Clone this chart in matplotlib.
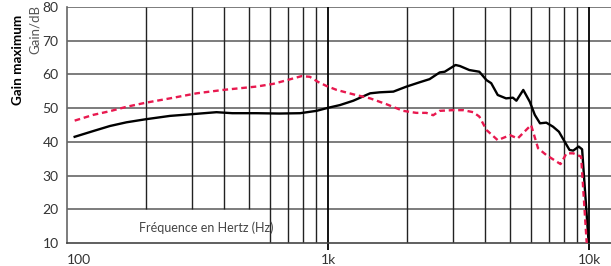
import matplotlib.pyplot as plt
import numpy as np

# values
black_f = [107, 126, 146, 169, 200, 248, 300, 374, 430, 532, 650, 782, 904, 1000,
           1110, 1250, 1450, 1580, 1780, 2000, 2250, 2450, 2680, 2800, 3080, 3200,
           3480, 3800, 4050, 4220, 4470, 4810, 5110, 5270, 5600, 5930, 6200, 6490,
           6860, 7280, 7670, 7870, 8420, 8700, 9130, 9410, 9970]
black_db = [41.5, 43.2, 44.7, 45.8, 46.7, 47.7, 48.2, 48.8, 48.5, 48.5, 48.4, 48.5,
            49.2, 50.1, 50.9, 52.2, 54.4, 54.7, 54.9, 56.4, 57.7, 58.6, 60.6, 60.8,
            62.8, 62.5, 61.3, 60.8, 58.3, 57.4, 53.9, 52.9, 53.1, 52.2, 55.4, 51.9,
            48.0, 45.5, 45.7, 44.5, 43.0, 41.5, 37.6, 37.4, 38.6, 37.8, 10]

pink_f = [107, 126, 146, 169, 200, 248, 314, 396, 532, 617, 696, 792, 852, 915, 985,
          1080, 1250, 1450, 1670, 1940, 2180, 2380, 2530, 2680, 3000, 3300, 3600,
          3800, 4050, 4470, 4980, 5330, 6000, 6380, 6860, 7780, 8200, 8700, 9330, 9800]
pink_db = [46.3, 48.0, 49.1, 50.4, 51.6, 52.9, 54.4, 55.4, 56.4, 57.2, 58.3, 59.5,
           59.3, 57.8, 56.6, 55.4, 54.1, 52.9, 51.2, 49.2, 48.6, 48.6, 47.9, 49.2,
           49.4, 49.4, 48.8, 47.5, 43.5, 40.5, 42.0, 41.0, 45.0, 38.1, 36.1, 33.4,
           36.6, 36.6, 35.6, 10]

y_ticks = [10, 20, 30, 40, 50, 60, 70, 80]
x_ticks = [100, 1000, 10000]
x_labels = ['100', '1k', '10k']

plt.rcParams['font.family'] = ['Lato', 'DejaVu Sans']

fig = plt.figure(figsize=(6.11, 2.66), dpi=100)
ax = fig.add_axes([67 / 611, 23 / 266, 544 / 611, 236 / 266])
ax.set_xscale('log')
ax.set_xlim(100, 10 ** (2 + 544 / 261))
ax.set_ylim(10, 80)

# grid drawn by hand (the label box hides the low part of some lines)
for y in y_ticks[1:]:
    ax.axhline(y, color='#666666', lw=1.2, zorder=1)
for f in [200, 300, 400, 500]:
    ax.vlines(f, 20, 80, color='#222222', lw=1.0, zorder=1)
for f in [600, 700, 800, 900, 2000, 3000, 4000, 5000, 6000, 7000, 8000, 9000]:
    ax.vlines(f, 10, 80, color='#222222', lw=1.0, zorder=1)
for f in [1000, 10000]:
    ax.vlines(f, 10, 80, color='#000000', lw=1.3, zorder=1)

ax.plot(black_f, black_db, color='black', lw=1.7, zorder=3)
ax.plot(pink_f, pink_db, color='#e8194f', lw=1.7, ls=(0, (2.4, 1.6)), zorder=4)

for s in ['top', 'right']:
    ax.spines[s].set_visible(False)
ax.spines['left'].set_color('#666666')
ax.spines['bottom'].set_color('#444444')
ax.spines['left'].set_linewidth(1.2)
ax.spines['bottom'].set_linewidth(1.2)

ax.set_xticks(x_ticks)
ax.set_xticklabels(x_labels)
ax.xaxis.set_minor_locator(plt.NullLocator())
ax.tick_params(axis='x', length=5, width=1.3, color='black', labelsize=10,
               labelcolor='#333333', pad=3)
ax.xaxis.get_major_ticks()[0].tick1line.set_visible(False)
ax.get_xticklabels()[0].set_horizontalalignment('left')
ax.set_yticks(y_ticks)
ax.tick_params(axis='y', length=0, labelsize=10, labelcolor='#333333', pad=6)

ax.text(0.132, 0.065, 'Fréquence en Hertz (Hz)', transform=ax.transAxes,
        fontsize=9, color='#444444', va='center', ha='left')

fig.text(18 / 611, 1 - 60 / 266, 'Gain maximum', rotation=90, fontsize=9.7,
         fontweight='bold', va='center', ha='center')
fig.text(35 / 611, 1 - 30 / 266, 'Gain/dB', rotation=90, fontsize=9.5,
         color='#555555', va='center', ha='center')

fig.savefig('out.png', dpi=100)
